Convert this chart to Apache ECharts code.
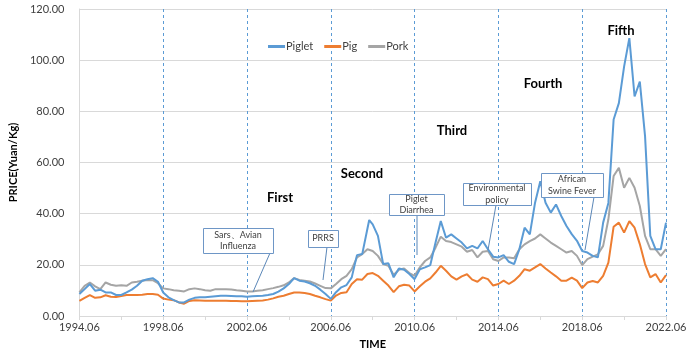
<!DOCTYPE html>
<html>
<head>
<meta charset="utf-8">
<script src="https://cdn.jsdelivr.net/npm/echarts@6/dist/echarts.min.js"></script>
<style>
html,body{margin:0;padding:0;background:#fff;}
#chart{width:700px;height:355px;}
</style>
</head>
<body>
<div id="chart"></div>
<script>
// Periods (year.month) of the sampled points
const periods = [
 '1994.06','1994.09','1994.12',
 '1995.03','1995.06','1995.09','1995.12',
 '1996.03','1996.06','1996.09','1996.12',
 '1997.03','1997.06','1997.09','1997.12',
 '1998.03','1998.06','1998.09','1998.12',
 '1999.03','1999.06','1999.09','1999.12',
 '2000.03','2000.06','2000.09','2000.12',
 '2001.03','2001.06','2001.09','2001.12',
 '2002.03','2002.06','2002.09','2002.12',
 '2003.03','2003.06','2003.09','2003.12',
 '2004.03','2004.06','2004.09','2004.12',
 '2005.03','2005.06','2005.09','2005.12',
 '2006.03','2006.06','2006.09','2006.12',
 '2007.03','2007.06','2007.09','2007.12',
 '2008.03','2008.04','2008.06','2008.09','2008.12',
 '2009.03','2009.06','2009.09','2009.12',
 '2010.03','2010.06','2010.09','2010.12',
 '2011.03','2011.06','2011.09','2011.12',
 '2012.03','2012.06','2012.09','2012.12',
 '2013.03','2013.06','2013.09','2013.12',
 '2014.03','2014.06','2014.09','2014.12',
 '2015.03','2015.06','2015.09','2015.12',
 '2016.03','2016.06','2016.09','2016.12',
 '2017.03','2017.06','2017.09','2017.12',
 '2018.03','2018.06','2018.09','2018.12',
 '2019.03','2019.06','2019.09','2019.12',
 '2020.03','2020.06','2020.09','2020.12',
 '2021.03','2021.06','2021.09','2021.12',
 '2022.03','2022.06'
];

const piglet = [
 8.6,10.5,12.5,
 9.9,10.3,9.2,9.2,
 8.2,8.2,9.2,10.3,
 11.8,13.8,14.4,14.8,
 13.4,9.2,7.3,6.2,
 5.3,5.3,6.4,7.1,
 7.3,7.3,7.5,7.7,
 7.9,7.9,7.8,7.7,
 7.7,7.5,7.7,7.8,
 7.9,8.2,8.6,9.5,
 10.8,12.5,14.8,13.8,
 13.5,12.8,11.8,10.3,
 8.6,6.7,9.3,11.2,
 12.1,15.1,23.8,24.2,
 34.2,37.5,35.8,31.3,20.3,
 20.6,15.1,18.6,18.1,
 16.4,14.4,18.3,19.0,
 19.9,28.7,37.1,30.6,
 31.9,30.3,28.7,26.4,
 27.4,26.4,29.3,26.1,
 23.2,22.9,23.8,21.2,
 20.3,26.1,34.5,31.9,
 44.3,52.7,44.3,40.4,
 43.6,39.1,35.2,32.0,
 29.4,25.4,24.8,23.5,
 22.9,36.5,44.2,76.8,
 83.2,97.5,108.6,85.8,
 91.6,70.3,31.3,26.1,
 26.1,36.5
];

const pig = [
 5.9,7.1,8.2,
 7.1,7.3,8.1,7.5,
 7.4,7.8,8.2,8.2,
 8.2,8.3,8.6,8.6,
 8.3,6.8,6.4,6.2,
 5.3,4.8,5.9,6.2,
 6.1,6.0,6.0,6.0,
 6.0,6.0,5.9,5.9,
 5.8,5.8,5.9,6.0,
 6.1,6.4,6.9,7.5,
 7.9,8.6,9.2,9.2,
 9.0,8.6,7.9,7.3,
 6.6,6.0,8.0,9.0,
 9.3,12.5,14.4,14.2,
 16.4,16.8,16.8,15.7,13.8,
 11.9,9.3,11.6,12.2,
 11.9,9.6,11.6,13.4,
 14.7,17.0,19.6,17.7,
 15.5,14.2,15.5,16.3,
 14.2,13.4,15.1,14.4,
 11.9,12.5,13.8,12.5,
 13.8,15.7,18.3,17.7,
 19.0,20.3,18.6,17.0,
 15.5,13.8,13.8,15.0,
 13.8,10.9,13.1,13.7,
 13.1,15.7,20.9,34.9,
 36.5,32.6,37.1,34.5,
 28.1,20.3,15.1,16.4,
 13.1,16.0
];

const pork = [
 9.2,11.8,13.1,
 11.6,10.5,13.1,12.2,
 11.8,12.0,11.8,13.1,
 13.4,13.8,14.1,14.0,
 12.8,10.8,10.5,10.1,
 9.9,9.6,10.5,10.8,
 10.5,10.1,9.9,10.5,
 10.5,10.5,10.4,10.1,
 9.9,9.6,9.6,9.9,
 10.1,10.5,10.9,11.4,
 12.0,13.1,14.8,14.1,
 13.8,13.5,12.7,11.8,
 10.9,10.8,12.5,14.4,
 15.7,18.3,22.9,24.2,
 26.1,26.3,25.4,23.5,20.3,
 19.6,16.0,18.1,18.6,
 16.8,15.7,19.0,21.5,
 22.9,26.7,31.0,29.3,
 28.9,28.0,27.1,25.1,
 25.8,22.9,25.1,25.4,
 22.2,21.5,22.9,22.9,
 22.6,26.1,28.0,29.3,
 30.3,31.9,30.3,28.7,
 27.4,26.1,24.8,25.4,
 23.5,19.9,22.2,23.2,
 24.1,27.4,37.8,54.7,
 57.9,50.1,54.0,50.1,
 43.0,31.3,26.1,26.1,
 23.5,26.1
];

const seriesNames = ['Piglet','Pig','Pork'];
const seriesColors = ['#5B9BD5','#ED7D31','#A5A5A5'];
const stageLabels = ['First','Second','Third','Fourth','Fifth'];
const eventLabels = [['Sars\u3001Avian','Influenza'],['PRRS'],['Piglet','Diarrhea'],['Environmental','policy'],['African','Swine Fever']];

// month offset from 1994.06
function monthIndex(p){
  const [y,m] = p.split('.').map(Number);
  return (y-1994)*12 + (m-6);
}
function pairs(vals){ return periods.map((p,i)=>[monthIndex(p), vals[i]]); }

const FONT = 'Lato';
const chart = echarts.init(document.getElementById('chart'), null, {renderer:'canvas'});

// annotation graphics (boxes with callout lines, stage titles)
const boxStroke = '#6E96C6';
const graphics = [];
const stagePos = [[280,198],[362,174],[452,131],[543,84],[621,31]];
stageLabels.forEach((t,i)=>{
  graphics.push({type:'text', x:stagePos[i][0], y:stagePos[i][1], style:{text:t, font:'bold 13px '+FONT, fill:'#000', textAlign:'center', textVerticalAlign:'middle'}, z:100});
});
const boxes = [
  {r:[203,228,70,25], line:[270,253,253,292]},
  {r:[308,230,30,17], line:[327,247,323,280]},
  {r:[389,194,55,21], line:[417,215,417,255]},
  {r:[463,183,68,22], line:[496,205,488,250]},
  {r:[541,173,62,24], line:[594,197,585,250]}
];
boxes.forEach((b,i)=>{
  graphics.push({type:'line', shape:{x1:b.line[0],y1:b.line[1],x2:b.line[2],y2:b.line[3]}, style:{stroke:'#5B87B8', lineWidth:1}, z:99});
  graphics.push({type:'rect', shape:{x:b.r[0]+0.5,y:b.r[1]+0.5,width:b.r[2],height:b.r[3]}, style:{fill:'#fff', stroke:boxStroke, lineWidth:1}, z:100});
  const lines = eventLabels[i];
  const cx = b.r[0]+b.r[2]/2;
  const lh = 11.5;
  const cy = b.r[1]+b.r[3]/2;
  lines.forEach((t,k)=>{
    graphics.push({type:'text', x:cx, y:cy + (k-(lines.length-1)/2)*lh, style:{text:t, font:'9px '+FONT, fill:'#404040', textAlign:'center', textVerticalAlign:'middle'}, z:101});
  });
});

const option = {
  animation:false,
  backgroundColor:'#fff',
  textStyle:{fontFamily:FONT},
  grid:{left:68, right:34, top:9, bottom:38, containLabel:false},
  legend:{
    data:seriesNames, left:263, top:36, itemWidth:17, itemHeight:3, itemGap:11,
    icon:'rect',
    textStyle:{fontFamily:FONT, fontSize:11, color:'#404040', padding:[0,0,0,-4]}
  },
  xAxis:{
    type:'value', min:0, max:336, interval:48,
    name:'TIME', nameLocation:'middle', nameGap:23,
    nameTextStyle:{fontFamily:FONT, fontWeight:'bold', fontSize:11, color:'#000'},
    axisLine:{show:true, lineStyle:{color:'#D9D9D9', width:1}},
    axisTick:{show:true, length:4, lineStyle:{color:'#D9D9D9'}},
    minorTick:{show:true, splitNumber:2, length:4, lineStyle:{color:'#D9D9D9'}},
    axisLabel:{fontFamily:FONT, fontSize:11, color:'#404040', margin:6,
      formatter:v=>(1994+v/12)+'.06'},
    splitLine:{show:true, lineStyle:{color:'#5B9BD5', type:[3,3], width:1}}
  },
  yAxis:{
    type:'value', min:0, max:120, interval:20,
    name:'PRICE(Yuan/Kg)', nameLocation:'middle', nameGap:50,
    nameTextStyle:{fontFamily:FONT, fontWeight:'bold', fontSize:11, color:'#000'},
    axisLine:{show:true, lineStyle:{color:'#D9D9D9', width:1}},
    axisTick:{show:false},
    axisLabel:{fontFamily:FONT, fontSize:11, color:'#404040', margin:15, formatter:v=>v.toFixed(2)},
    splitLine:{show:true, lineStyle:{color:'#D9D9D9', width:1}}
  },
  series:[piglet,pig,pork].map((vals,i)=>({
    name:seriesNames[i], type:'line', data:pairs(vals), showSymbol:false, symbol:'none',
    lineStyle:{width:2, color:seriesColors[i]}, itemStyle:{color:seriesColors[i]},
    smooth:false, z:2+ (i===0?2:(i===2?1:0))
  })),
  graphic:graphics
};
chart.setOption(option);
</script>
</body>
</html>
